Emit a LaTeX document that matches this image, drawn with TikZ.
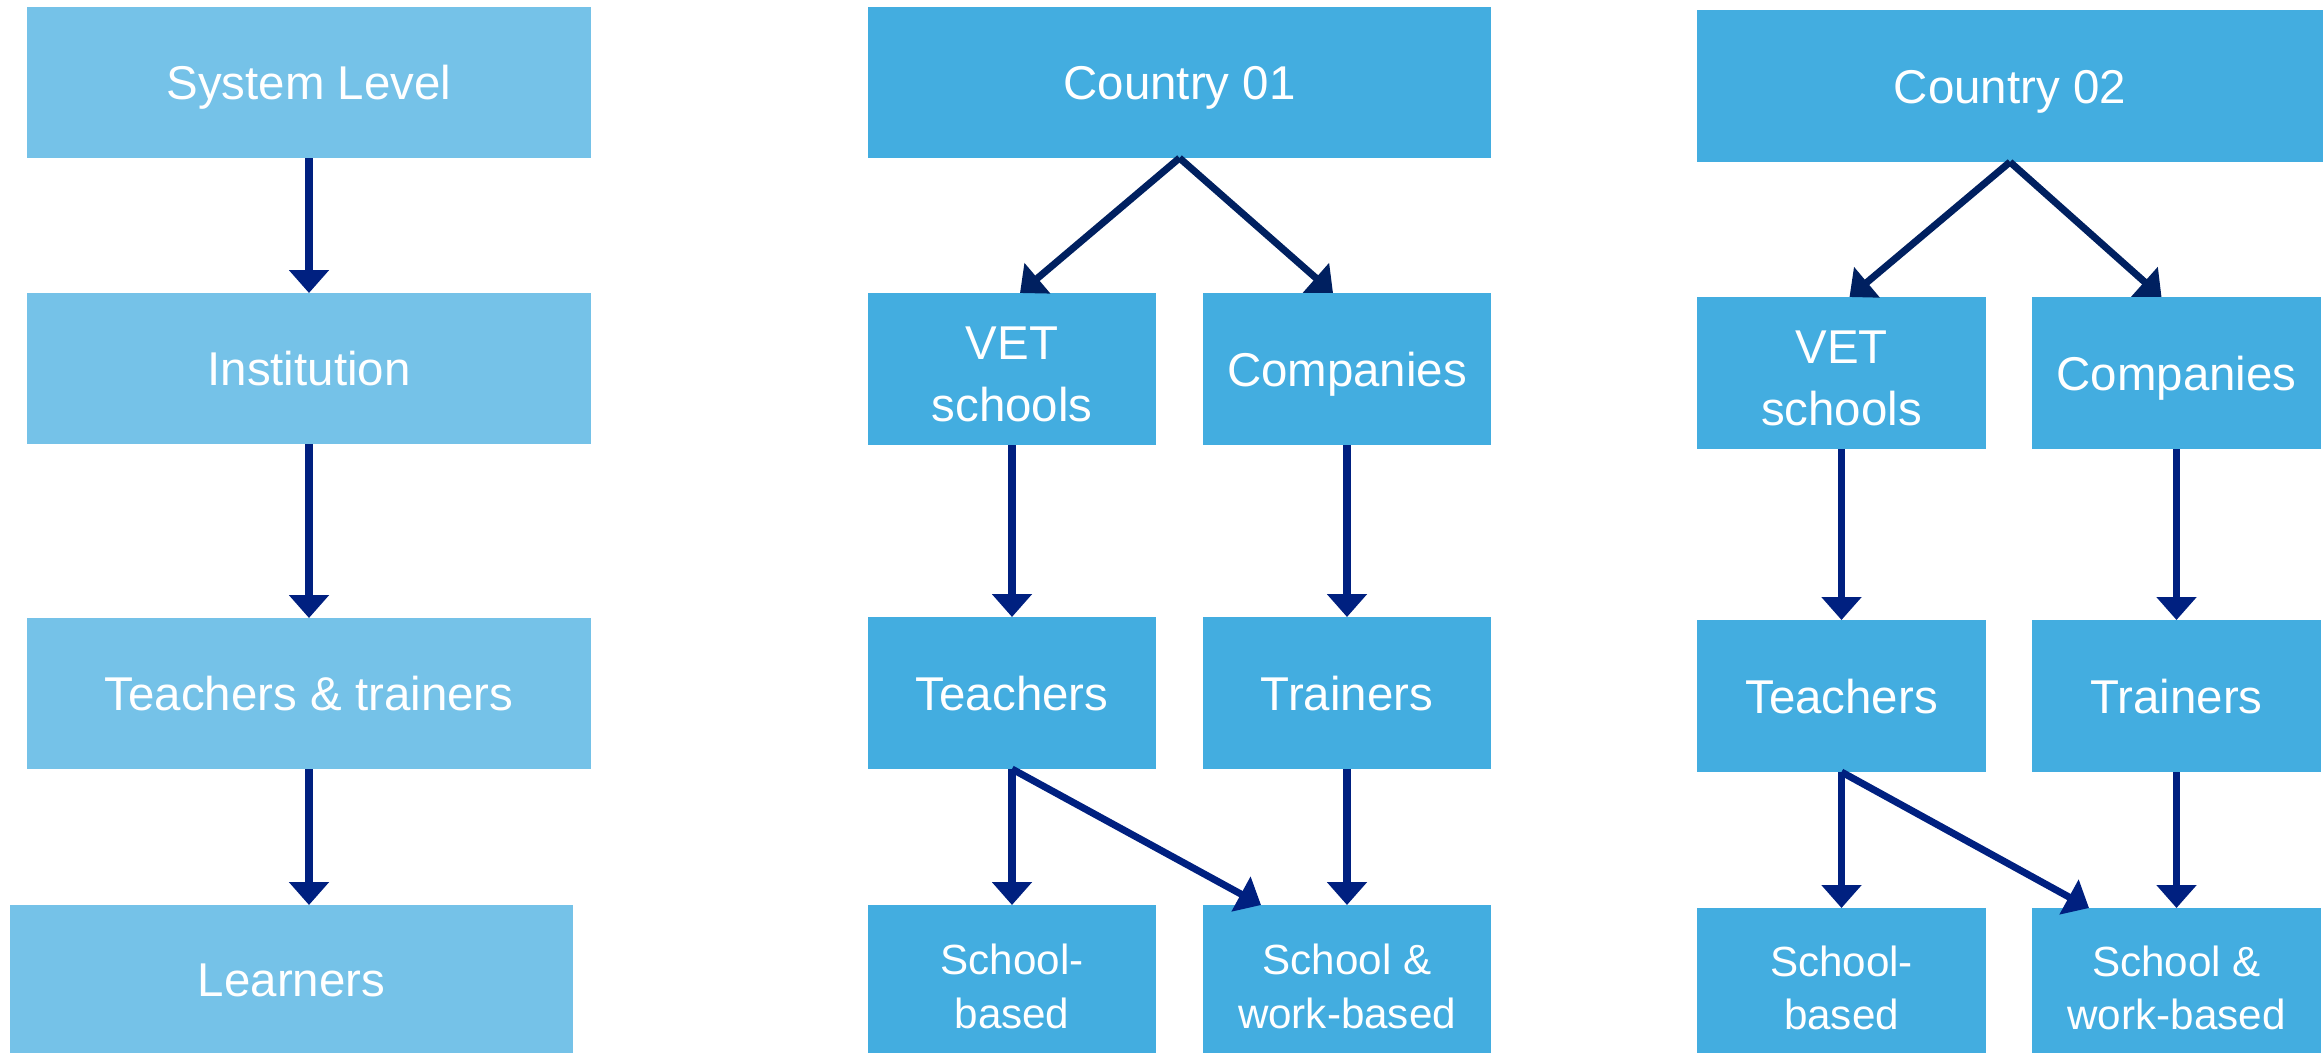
\documentclass[tikz,border=0pt]{standalone}
\usepackage{fontspec}
\setmainfont{Liberation Sans}
\usetikzlibrary{arrows.meta}

\definecolor{hellblau}{RGB}{117,194,232}
\definecolor{mittelblau}{RGB}{67,173,224}
\definecolor{pfeilblau}{RGB}{0,32,128}
\definecolor{pfeildunkel}{RGB}{0,32,96}

% Abstand oberhalb der ersten Zeile
\newcommand{\obenzu}[1]{\rule{0pt}{#1}}

\tikzset{
  ebene/.style={rectangle, fill=hellblau, text=white, inner sep=0pt, outer sep=0pt,
    minimum width=5.64cm, minimum height=1.51cm, align=center,
    text height=9.7pt, text depth=0pt,
    font=\fontsize{13.5}{16.5}\selectfont},
  land/.style={ebene, fill=mittelblau, minimum width=6.23cm},
  feld/.style={land, minimum width=2.88cm, minimum height=1.52cm},
  feldzwei/.style={rectangle, fill=mittelblau, text=white, inner sep=0pt, outer sep=0pt,
    minimum width=2.88cm, minimum height=1.52cm, align=center,
    font=\fontsize{13.5}{17.5}\selectfont},
  feldklein/.style={feldzwei, minimum height=1.48cm,
    font=\fontsize{12}{15.2}\selectfont},
  pfeil/.style={draw=pfeilblau, line width=2pt, -{Triangle[width=11pt,length=6.5pt]}},
  pfeilschraeg/.style={pfeil, draw=pfeildunkel}
}

\begin{document}
\begin{tikzpicture}[scale=1]
			\useasboundingbox (0,0) rectangle (23.23,-10.53);

			% Ebenen
			\node[ebene] (sys) at (3.09,-0.825) {System Level};
			\node[ebene] (inst) at (3.09,-3.685) {Institution};
			\node[ebene] (tt) at (3.09,-6.935) {Teachers \& trainers};
			\node[ebene, minimum width=5.63cm, minimum height=1.48cm] (learn) at (2.915,-9.79) {Learners};

			\draw[pfeil] (sys) -- (inst);
			\draw[pfeil] (inst) -- (tt);
			\draw[pfeil] (tt.south) -- (tt.south |- learn.north);

			% Land 01
			\node[land] (land1) at (11.795,-0.825) {Country 01};
			\node[feldzwei] (vet1) at (10.12,-3.69) {\obenzu{12.5pt}VET\\schools};
			\node[feld] (comp1) at (13.47,-3.69) {Companies};
			\node[feld] (teach1) at (10.12,-6.93) {Teachers};
			\node[feld] (train1) at (13.47,-6.93) {Trainers};
			\node[feldklein] (sb1) at (10.12,-9.79) {\obenzu{13pt}School-\\based};
			\node[feldklein] (swb1) at (13.47,-9.79) {\obenzu{13pt}School \&\\work-based};

			\draw[pfeilschraeg] (land1.south) -- ([xshift=0.8mm]vet1.north);
			\draw[pfeilschraeg] (land1.south) -- ([xshift=-1.4mm]comp1.north);
			\draw[pfeil] (vet1) -- (teach1);
			\draw[pfeil] (comp1) -- (train1);
			\draw[pfeil] (teach1) -- (sb1);
			\draw[pfeil] (teach1.south) -- ([xshift=5.8mm]swb1.north west);
			\draw[pfeil] (train1) -- (swb1);

			% Land 02
			\node[land, minimum width=6.26cm, minimum height=1.52cm] (land2) at (20.10,-0.86) {Country 02};
			\node[feldzwei, minimum width=2.89cm] (vet2) at (18.415,-3.73) {\obenzu{12.5pt}VET\\schools};
			\node[feld, minimum width=2.89cm] (comp2) at (21.765,-3.73) {Companies};
			\node[feld, minimum width=2.89cm] (teach2) at (18.415,-6.96) {Teachers};
			\node[feld, minimum width=2.89cm] (train2) at (21.765,-6.96) {Trainers};
			\node[feldklein, minimum width=2.89cm, minimum height=1.45cm] (sb2) at (18.415,-9.805) {\obenzu{13pt}School-\\based};
			\node[feldklein, minimum width=2.89cm, minimum height=1.45cm] (swb2) at (21.765,-9.805) {\obenzu{13pt}School \&\\work-based};

			\draw[pfeilschraeg] (land2.south) -- ([xshift=0.8mm]vet2.north);
			\draw[pfeilschraeg] (land2.south) -- ([xshift=-1.5mm]comp2.north);
			\draw[pfeil] (vet2) -- (teach2);
			\draw[pfeil] (comp2) -- (train2);
			\draw[pfeil] (teach2) -- (sb2);
			\draw[pfeil] (teach2.south) -- ([xshift=5.7mm]swb2.north west);
			\draw[pfeil] (train2) -- (swb2);

		\end{tikzpicture}
\end{document}
